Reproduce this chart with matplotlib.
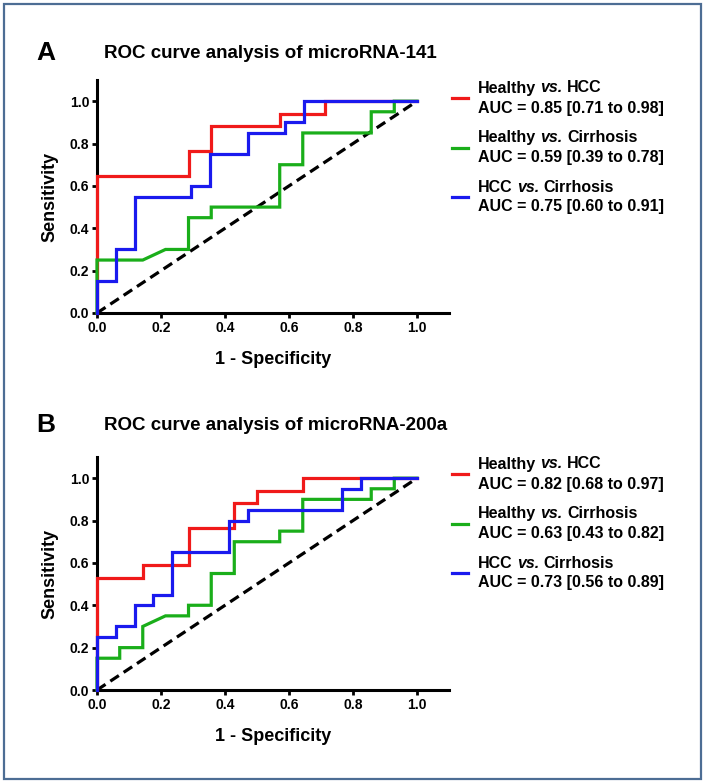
import matplotlib.pyplot as plt
from matplotlib.lines import Line2D
from matplotlib.patches import Rectangle

plt.rcParams['font.family'] = ['Liberation Sans', 'DejaVu Sans']

W, H = 707, 783

# ---- data ----
# panel A: microRNA-141
a_red_x = [0, 0, 0.286, 0.286, 0.357, 0.357, 0.571, 0.571, 0.714, 0.714, 1.0]
a_red_y = [0, 0.647, 0.647, 0.765, 0.765, 0.882, 0.882, 0.941, 0.941, 1.0, 1.0]
a_green_x = [0, 0, 0.143, 0.214, 0.286, 0.286, 0.357, 0.357, 0.571, 0.571,
             0.643, 0.643, 0.857, 0.857, 0.929, 0.929, 1.0]
a_green_y = [0, 0.25, 0.25, 0.30, 0.30, 0.45, 0.45, 0.50, 0.50, 0.70,
             0.70, 0.85, 0.85, 0.95, 0.95, 1.0, 1.0]
a_blue_x = [0, 0, 0.059, 0.059, 0.118, 0.118, 0.294, 0.294, 0.353, 0.353,
            0.471, 0.471, 0.588, 0.588, 0.647, 0.647, 1.0]
a_blue_y = [0, 0.15, 0.15, 0.30, 0.30, 0.55, 0.55, 0.60, 0.60, 0.75,
            0.75, 0.85, 0.85, 0.90, 0.90, 1.0, 1.0]

# panel B: microRNA-200a
b_red_x = [0, 0, 0.143, 0.143, 0.286, 0.286, 0.429, 0.429, 0.5, 0.5, 0.643, 0.643, 1.0]
b_red_y = [0, 0.529, 0.529, 0.588, 0.588, 0.765, 0.765, 0.882, 0.882, 0.941, 0.941, 1.0, 1.0]
b_green_x = [0, 0, 0.071, 0.071, 0.143, 0.143, 0.214, 0.286, 0.286, 0.357, 0.357,
             0.429, 0.429, 0.571, 0.571, 0.643, 0.643, 0.857, 0.857, 0.929, 0.929, 1.0]
b_green_y = [0, 0.15, 0.15, 0.20, 0.20, 0.30, 0.35, 0.35, 0.40, 0.40, 0.55,
             0.55, 0.70, 0.70, 0.75, 0.75, 0.90, 0.90, 0.95, 0.95, 1.0, 1.0]
b_blue_x = [0, 0, 0.059, 0.059, 0.118, 0.118, 0.176, 0.176, 0.235, 0.235, 0.412,
            0.412, 0.471, 0.471, 0.765, 0.765, 0.824, 0.824, 1.0]
b_blue_y = [0, 0.25, 0.25, 0.30, 0.30, 0.40, 0.40, 0.45, 0.45, 0.65, 0.65,
            0.80, 0.80, 0.85, 0.85, 0.95, 0.95, 1.0, 1.0]

ticks = [0.0, 0.2, 0.4, 0.6, 0.8, 1.0]
groups = [("Healthy", "HCC"), ("Healthy", "Cirrhosis"), ("HCC", "Cirrhosis")]
auc_a = ["AUC = 0.85 [0.71 to 0.98]", "AUC = 0.59 [0.39 to 0.78]", "AUC = 0.75 [0.60 to 0.91]"]
auc_b = ["AUC = 0.82 [0.68 to 0.97]", "AUC = 0.63 [0.43 to 0.82]", "AUC = 0.73 [0.56 to 0.89]"]
titles = ["ROC curve analysis of microRNA-141", "ROC curve analysis of microRNA-200a"]
letters = ["A", "B"]

colors = ['#f01a1a', '#1aae1a', '#1a1aee']


def fx(px):
    return px / W


def fy(py):
    return 1 - py / H


fig = plt.figure(figsize=(W / 100, H / 100), dpi=100)


def draw_panel(ax, curves, aucs, letter, title, title_y, one_y):
    # title_y: pixel row of the title, one_y: pixel row of sensitivity 1.0
    for (xs, ys), c in zip(curves, colors):
        ax.plot(xs, ys, color=c, lw=2.3, clip_on=False, solid_joinstyle='miter', zorder=3)
    ax.plot([0, 1], [0, 1], color='black', lw=2.3, ls=(0, (3.2, 1.8)), zorder=2)
    ax.set_xlim(0, 1.1)
    ax.set_ylim(0, 1.1)
    ax.set_xticks(ticks)
    ax.set_yticks(ticks)
    ax.set_xticklabels(['%.1f' % t for t in ticks])
    ax.set_yticklabels(['%.1f' % t for t in ticks])
    for s in ['top', 'right']:
        ax.spines[s].set_visible(False)
    for s in ['left', 'bottom']:
        ax.spines[s].set_linewidth(2.2)
    ax.tick_params(width=2, length=3.5, labelsize=10, pad=2)
    for lab in ax.get_xticklabels() + ax.get_yticklabels():
        lab.set_fontweight('bold')
    ax.set_xlabel('1 - Specificity', fontsize=13, fontweight='bold', labelpad=12)
    ax.set_ylabel('Sensitivity', fontsize=13, fontweight='bold', labelpad=8)

    fig.text(fx(36), fy(title_y), letter, fontsize=19, fontweight='bold', va='center', ha='left')
    fig.text(fx(104), fy(title_y), title, fontsize=13.5, fontweight='bold', va='center', ha='left')

    # legend
    for i, ((g1, g2), auc) in enumerate(zip(groups, aucs)):
        yc = one_y - 13 + 49.5 * i
        fig.add_artist(Line2D([fx(452), fx(468)], [fy(yc + 10), fy(yc + 10)],
                              color=colors[i], lw=2.3))
        t1 = fig.text(fx(478), fy(yc), g1, fontsize=11.5, fontweight='bold',
                      va='center', ha='left')
        t2 = ax.annotate('vs.', xy=(1, 0), xycoords=t1, xytext=(3.2, 0),
                         textcoords='offset points', fontsize=11.5, fontweight='bold',
                         fontstyle='italic', va='bottom', ha='left')
        ax.annotate(g2, xy=(1, 0), xycoords=t2, xytext=(3.2, 0),
                    textcoords='offset points', fontsize=11.5, fontweight='bold',
                    va='bottom', ha='left')
        fig.text(fx(478), fy(yc + 20), auc, fontsize=11.5, fontweight='bold',
                 va='center', ha='left')


ax_a = fig.add_axes([fx(97), fy(313), 352 / W, 233 / H])
draw_panel(ax_a, [(a_red_x, a_red_y), (a_green_x, a_green_y), (a_blue_x, a_blue_y)],
           auc_a, letters[0], titles[0], 53, 101)

ax_b = fig.add_axes([fx(97), fy(690), 352 / W, 233 / H])
draw_panel(ax_b, [(b_red_x, b_red_y), (b_green_x, b_green_y), (b_blue_x, b_blue_y)],
           auc_b, letters[1], titles[1], 425, 477)

# outer frame
fig.add_artist(Rectangle((fx(4), fy(779)), (701 - 4) / W, (779 - 4) / H,
                         transform=fig.transFigure, fill=False,
                         edgecolor='#4d6d94', lw=1.6))

fig.savefig('out.png', dpi=100)
